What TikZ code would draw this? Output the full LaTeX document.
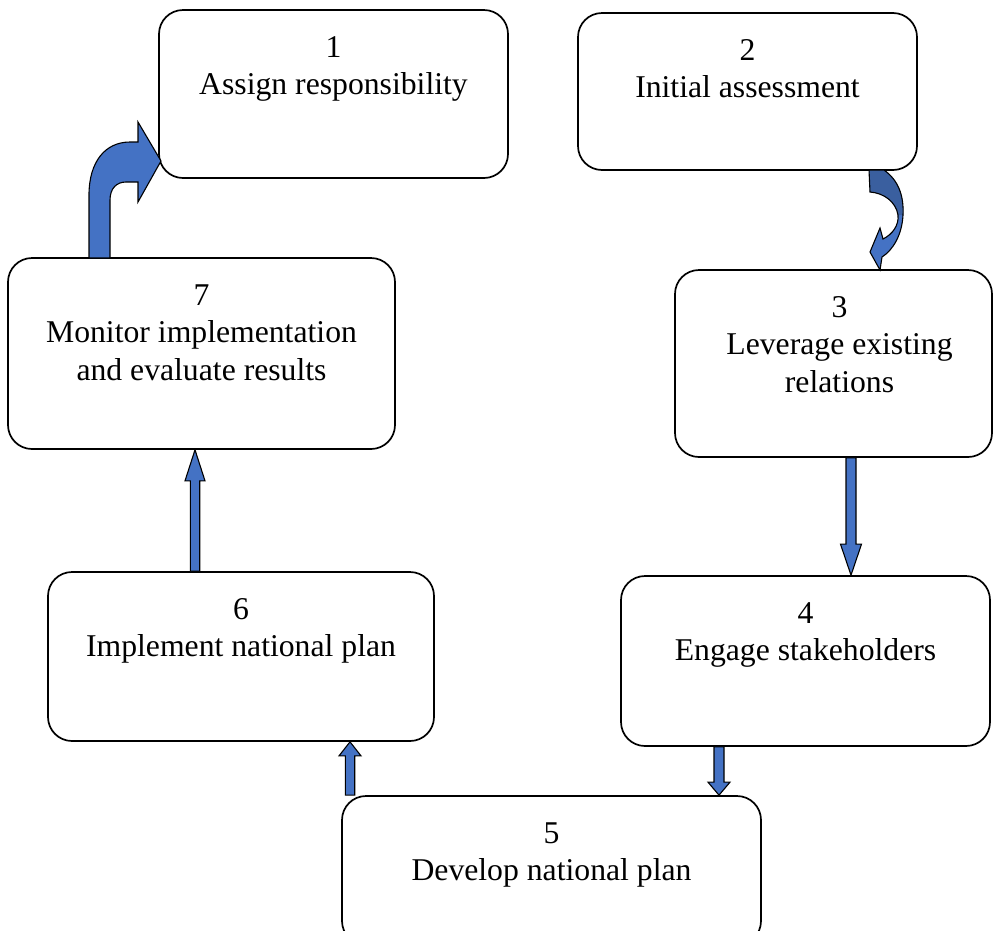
\documentclass[tikz,border=0pt]{standalone}
\usepackage{fontspec}
\setmainfont{Liberation Serif}
\usetikzlibrary{arrows.meta,positioning,calc}
\usepackage{xcolor}
\definecolor{flowblue}{HTML}{4472C4}
\definecolor{flowdark}{HTML}{3A5F9F}
\definecolor{edge}{HTML}{000000}

% straight block arrow: from, to, shaft half width, head half width, head length
\newcommand\blockarrow[5]{%
 \filldraw[flow] let \p1=(#1),\p2=(#2),\n1={((\y2>\y1)*2-1)*#5} in
 (\x1-#3,\y1)--(\x1-#3,\y2-\n1*1pt)--(\x1-#4,\y2-\n1*1pt)--(\x1,\y2)
 --(\x1+#4,\y2-\n1*1pt)--(\x1+#3,\y2-\n1*1pt)--(\x1+#3,\y1)--cycle;}

\begin{document}
\begin{tikzpicture}[x=1pt,y=-1pt,
 stage/.style={draw=edge,line width=1.7pt,rounded corners=24pt,inner sep=0pt},
 stagetext/.style={anchor=north,yshift=-27pt,inner sep=0pt,align=center,
  font=\fontsize{31.7}{37.5}\selectfont},
 flow/.style={fill=flowblue,draw=edge,line width=1.1pt,line join=miter}]
\useasboundingbox (0,0) rectangle (993,930);
\node[stage,minimum width=349pt,minimum height=168pt,label={[stagetext]north:{1\\Assign responsibility}}] (assign) at (333.5,94) {};
\node[stage,minimum width=339pt,minimum height=157pt,label={[stagetext]north:{2\\Initial assessment}}] (assess) at (747.5,91.5) {};
\node[stage,minimum width=317pt,minimum height=187pt,label={[stagetext,xshift=6pt]north:{3\\Leverage existing\\relations}}] (leverage) at (833.5,363.5) {};
\node[stage,minimum width=369pt,minimum height=170pt,label={[stagetext]north:{4\\Engage stakeholders}}] (engage) at (805.5,661) {};
\node[stage,minimum width=419pt,minimum height=149pt,label={[stagetext]north:{5\\Develop national plan}}] (develop) at (551.5,870.5) {};
\node[stage,minimum width=386pt,minimum height=169pt,label={[stagetext]north:{6\\Implement national plan}}] (implement) at (241,656.5) {};
\node[stage,minimum width=387pt,minimum height=191pt,label={[stagetext]north:{7\\Monitor implementation\\and evaluate results}}] (monitor) at (201.5,353.5) {};
% curved arrows
\filldraw[flow] (89,258)--(89,195) .. controls (89,162) and (105,142) .. (130,142)--(138,142)--(138,122)
 --(161,161)--(138,202)--(138,182)--(126,182) .. controls (117,182) and (110,188) .. (110,200)--(110,258)--cycle;
\fill[flowblue] (869,170)--(884,170) .. controls (898,180) and (904,195) .. (903,215) .. controls (902,235) and (893,250) .. (882,257)
 --(880,270)--(870,252)--(880,228)--(883,239) .. controls (893,234) and (899,225) .. (898,215) .. controls (896,202) and (884,193) .. (870,192)--cycle;
\fill[flowdark] (869,170)--(884,170) .. controls (898,180) and (904,195) .. (903,215)--(898,215) .. controls (896,202) and (884,193) .. (870,192)--cycle;
\draw[draw=edge,line width=1.1pt] (869,170)--(884,170) .. controls (898,180) and (904,195) .. (903,215) .. controls (902,235) and (893,250) .. (882,257)
 --(880,270)--(870,252)--(880,228)--(883,239) .. controls (893,234) and (899,225) .. (898,215) .. controls (896,202) and (884,193) .. (870,192)--cycle;
% straight arrows
\blockarrow{[xshift=17.5pt]leverage.south}{engage.north}{5pt}{10.5pt}{31}
\blockarrow{[xshift=-86.5pt]engage.south}{develop.north}{5pt}{11pt}{13}
\blockarrow{[xshift=-201.5pt]develop.north}{implement.south}{4.7pt}{11pt}{14}
\blockarrow{[xshift=-46pt]implement.north}{monitor.south}{4.7pt}{10pt}{31}
\end{tikzpicture}
\end{document}
